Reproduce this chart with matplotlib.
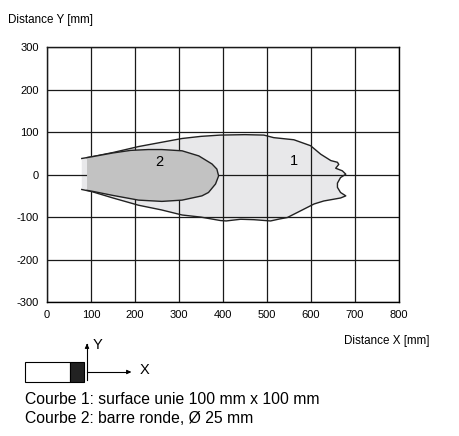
import matplotlib.pyplot as plt
from matplotlib.patches import Polygon, Rectangle

plt.rcParams['font.family'] = ['Liberation Sans', 'DejaVu Sans']
plt.rcParams['axes.unicode_minus'] = False

# curve 1: flat surface 100 x 100 mm (outline, mm), open on the left side
c1_x = [79, 102, 150, 208, 260, 307, 350, 394, 450, 493, 515, 561, 599, 622,
        645, 660, 663, 656, 671, 679, 667, 660, 660, 667, 679, 667, 629, 607,
        569, 546, 530, 508, 470, 440, 407, 394, 350, 307, 260, 208, 150, 102, 79]
c1_y = [38, 42, 52, 66, 76, 85, 90, 93, 94, 93, 87, 82, 68, 48,
        33, 29, 24, 15, 9, 1, -7, -20, -30, -42, -50, -55, -62, -69,
        -89, -101, -104, -109, -106, -105, -109, -108, -100, -95, -83, -72, -55, -40, -35]

# curve 2: round bar, 25 mm diameter
c2_x = [91, 102, 150, 190, 230, 261, 307, 345, 375, 386, 390, 383, 367, 352,
        307, 261, 208, 150, 102, 91]
c2_y = [40, 42, 51, 57, 59, 59, 56, 44, 25, 13, -3, -22, -42, -50,
        -60, -63, -60, -49, -39, -37]

xticks = [0, 100, 200, 300, 400, 500, 600, 700, 800]
yticks = [-300, -200, -100, 0, 100, 200, 300]

fig = plt.figure(figsize=(4.59, 4.36), dpi=100)
ax = fig.add_axes([0.1024, 0.307, 0.767, 0.585])

ax.add_patch(Polygon(list(zip(c1_x, c1_y)), closed=True, facecolor='#e8e8ea',
                     edgecolor='none', zorder=2))
ax.plot(c1_x, c1_y, color='#222222', linewidth=1.0, zorder=3)
ax.add_patch(Polygon(list(zip(c2_x, c2_y)), closed=True, facecolor='#c2c2c2',
                     edgecolor='none', zorder=3))
ax.plot(c2_x, c2_y, color='#222222', linewidth=1.0, zorder=4)
ax.text(255, 29, '2', fontsize=10.5, ha='center', va='center', zorder=4)
ax.text(560, 31, '1', fontsize=10.5, ha='center', va='center', zorder=4)

ax.set_xlim(0, 800)
ax.set_ylim(-300, 300)
ax.set_xticks(xticks)
ax.set_yticks(yticks)
ax.grid(True, color='#1a1a1a', linewidth=0.9, zorder=5)
ax.set_axisbelow(False)
ax.tick_params(length=0, labelsize=8, pad=6)
for s in ax.spines.values():
    s.set_linewidth(1.0)

fig.text(8 / 459, 1 - 20 / 436, 'Distance Y [mm]', fontsize=8.4, va='center', ha='left')
fig.text(430 / 459, 1 - 341 / 436, 'Distance X [mm]', fontsize=8.4, va='center', ha='right')

# sensor sketch
fig.patches.append(Rectangle((25 / 459, 1 - 382 / 436), 45 / 459, 20 / 436,
                             transform=fig.transFigure, facecolor='white',
                             edgecolor='black', linewidth=0.8))
fig.patches.append(Rectangle((70 / 459, 1 - 382 / 436), 14 / 459, 20 / 436,
                             transform=fig.transFigure, facecolor='#222222',
                             edgecolor='black', linewidth=0.8))
fig.add_artist(plt.Line2D([87 / 459, 87 / 459], [1 - 380 / 436, 1 - 344 / 436],
                          transform=fig.transFigure, color='black', linewidth=0.8))
fig.add_artist(plt.Line2D([87 / 459, 128 / 459], [1 - 372 / 436, 1 - 372 / 436],
                          transform=fig.transFigure, color='black', linewidth=0.8))
ax.annotate('', xy=(87 / 459, 1 - 341 / 436), xytext=(87 / 459, 1 - 348 / 436),
            xycoords='figure fraction',
            arrowprops=dict(arrowstyle='-|>', color='black', lw=0.8, mutation_scale=6))
ax.annotate('', xy=(134 / 459, 1 - 372 / 436), xytext=(126 / 459, 1 - 372 / 436),
            xycoords='figure fraction',
            arrowprops=dict(arrowstyle='-|>', color='black', lw=0.8, mutation_scale=6))
fig.text(93 / 459, 1 - 345 / 436, 'Y', fontsize=10.5, va='center', ha='left')
fig.text(140 / 459, 1 - 370 / 436, 'X', fontsize=10.5, va='center', ha='left')

fig.text(25 / 459, 1 - 399 / 436, 'Courbe 1: surface unie 100 mm x 100 mm',
         fontsize=11.3, va='center', ha='left')
fig.text(25 / 459, 1 - 418 / 436, 'Courbe 2: barre ronde, Ø 25 mm',
         fontsize=11.3, va='center', ha='left')

fig.savefig('out.png', dpi=100)
